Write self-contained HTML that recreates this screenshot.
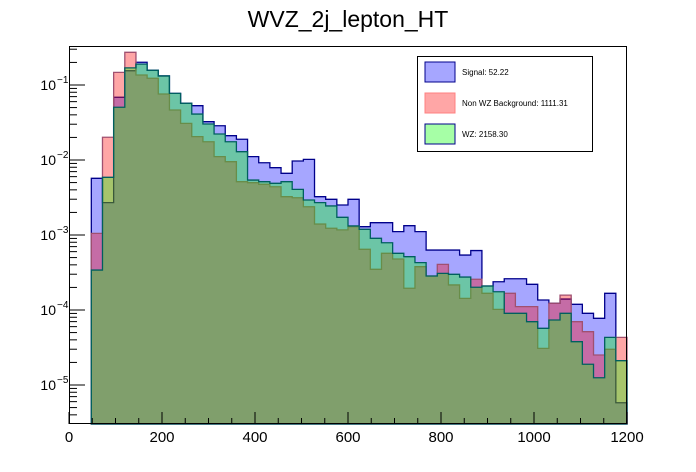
<!DOCTYPE html>
<html><head><meta charset="utf-8"><style>
body{margin:0;background:#fff;}
svg{display:block;font-family:"Liberation Sans",Arial,sans-serif;}
</style></head><body>
<svg id="c" width="696" height="472" viewBox="0 0 696 472">
<rect width="696" height="472" fill="#fff"/>
<text x="348" y="27" text-anchor="middle" font-size="23">WVZ_2j_lepton_HT</text>
<g id="hists"></g>
<g id="axes"></g>
<g>
<rect x="417.5" y="56.5" width="175" height="95" fill="#fff" stroke="#000" stroke-width="1"/>
<g><rect x="425" y="62" width="30" height="20" fill="rgb(166,166,255)" stroke="#00008b"/><text x="462" y="75" font-size="8">Signal: 52.22</text></g>
<g><rect x="425" y="93" width="30" height="20" fill="rgb(255,166,166)" stroke="#ff8080"/><text x="462" y="106" font-size="8">Non WZ Background: 1111.31</text></g>
<g><rect x="425" y="124" width="30" height="20" fill="rgb(166,255,166)" stroke="#00008b"/><text x="462" y="137" font-size="8">WZ: 2158.30</text></g>
</g>
</svg>
<script>
const binEdges0 = 48;      // first filled bin low edge
const binWidth = 24;
const signalVals = [5.7e-3,2.7e-3,0.0686,0.155,0.201,0.157,0.132,0.0774,0.057,0.053,0.0324,0.0286,0.0211,0.0189,0.0111,0.0092,0.0079,0.00665,0.0097,0.0102,0.00324,0.00299,0.00251,0.00299,0.00129,0.00146,0.00146,0.00111,0.00133,0.00111,0.00063,0.00063,0.00063,0.00054,0.00062,0.000209,0.000238,0.000261,0.000261,0.00022,0.000136,0.000123,0.00014,0.000119,0.0000903,0.0000775,0.000167,0.0000058];
const nonWzVals = [0.00105,0.0201,0.1475,0.273,0.136,0.123,0.0759,0.0464,0.0308,0.0205,0.0175,0.0111,0.0095,0.00514,0.00498,0.00474,0.0044,0.00324,0.00314,0.00238,0.0014,0.00123,0.00117,0.00129,0.000644,0.000349,0.00057,0.000479,0.000195,0.000378,0.000284,0.000406,0.000216,0.000143,0.000257,0.000167,0.000102,0.000167,0.000111,0.000111,0.0000308,0.000123,0.000158,0.0000698,0.0000514,0.0000251,0.0000299,0.0000432];
const wzVals = [0.000341,0.00588,0.0505,0.169,0.19,0.157,0.132,0.0774,0.057,0.041,0.0302,0.0222,0.0175,0.0129,0.0054,0.00514,0.00489,0.00514,0.00406,0.00293,0.0027,0.00244,0.00172,0.00132,0.00119,0.000903,0.000789,0.00057,0.000514,0.000428,0.000284,0.000308,0.000299,0.000275,0.000201,0.000209,0.000175,0.0000903,0.0000903,0.0000698,0.000057,0.0000736,0.0000903,0.0000378,0.0000189,0.0000125,0.0000432,0.0000211];
const xTicks = [0,200,400,600,800,1000,1200];
const yTickExps = [-1,-2,-3,-4,-5];

const X0=69, X1=627, Y0=46, Y1=424;
const xs = v => X0 + (v/1200)*(X1-X0);
const ys = v => { const y = 10 - 75*Math.log10(v); return Math.min(Math.max(y,Y0),Y1); };
const NS="http://www.w3.org/2000/svg";
function mk(t,a,parent){const e=document.createElementNS(NS,t);for(const k in a)e.setAttribute(k,a[k]);parent.appendChild(e);return e;}

const hg=document.getElementById('hists');
function drawHist(vals,fill,stroke,name){
  let d=`M${xs(binEdges0)},${Y1}`;
  vals.forEach((v,i)=>{const lo=binEdges0+i*binWidth, hi=lo+binWidth;
    d+=` L${xs(lo)},${ys(v)} L${xs(hi)},${ys(v)}`;});
  d+=` L${xs(binEdges0+vals.length*binWidth)},${Y1} Z`;
  const p=mk('path',{d:d,fill:fill,stroke:stroke,'stroke-width':1.3},hg);
  
  
}
drawHist(signalVals,'rgba(0,0,255,0.35)','#00008b','signal-histogram');
drawHist(nonWzVals,'rgba(255,0,0,0.35)','#a05070','non-wz-background-histogram');
drawHist(wzVals,'rgba(0,255,0,0.35)','#005f5f','wz-histogram');

const ag=document.getElementById('axes');
mk('rect',{x:X0+0.5,y:Y0+0.5,width:X1-X0-1,height:Y1-Y0-1,fill:'none',stroke:'#000','stroke-width':1},ag);
for(let v=0; v<=1200; v+=50){
  const major = v%200===0;
  mk('line',{x1:xs(v),x2:xs(v),y1:Y1,y2:Y1-(major?12:6),stroke:'#000','stroke-width':1},ag);
}
xTicks.forEach(v=>{
  const t=mk('text',{x:xs(v),y:442,'text-anchor':'middle','font-size':15},ag);
  t.textContent=v;
  
  
});
for(let e=-6;e<=0;e++){
  for(let m=1;m<10;m++){
    const v=m*Math.pow(10,e); const y=10-75*Math.log10(v);
    if(y<Y0||y>Y1) continue;
    mk('line',{x1:X0,x2:X0+(m===1?16:8),y1:y,y2:y,stroke:'#000','stroke-width':1},ag);
  }
}
yTickExps.forEach(e=>{
  const y=10-75*e;
  const t=mk('text',{x:56,y:y+5,'text-anchor':'end','font-size':14},ag);
  t.textContent='10';
  
  
  const s=mk('text',{x:57,y:y-2,'font-size':10},ag);
  s.textContent='\u2212'+(-e);
  
  
});
</script>
</body></html>
